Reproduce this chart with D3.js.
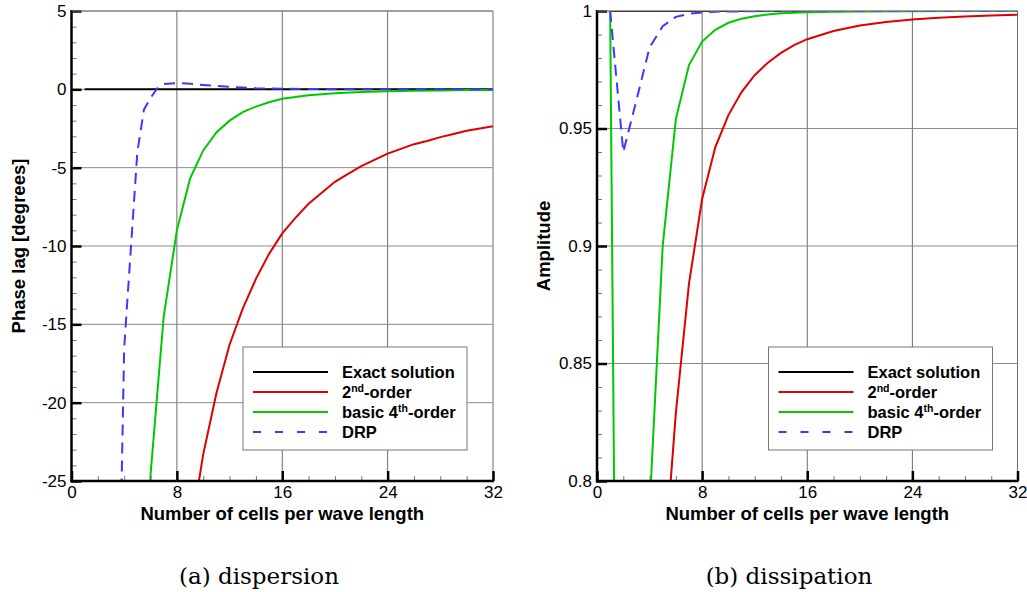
<!DOCTYPE html>
<html>
<head>
<meta charset="utf-8">
<script src="https://cdn.jsdelivr.net/npm/d3@7"></script>
<style>
  body { margin: 0; background: #fff; }
  svg { display: block; }
</style>
</head>
<body>
<div id="chart"></div>
<script>
// series: x = number of cells per wave length

// exact solution
var exactN = [1, 32];
var exactPhase = [0, 0];
var exactAmp = [1, 1];

// (a) dispersion, phase lag in degrees
var disp2ndN = [9, 10, 11, 12, 13, 14, 15, 16, 17, 18, 19, 20, 21, 22, 23, 24, 25, 26, 27, 28, 29, 30, 31, 32];
var disp2nd = [-28.5, -23.3, -19.4, -16.3, -14.0, -12.1, -10.5, -9.2, -8.2, -7.3, -6.6, -5.9, -5.4, -4.9, -4.5, -4.1, -3.8, -3.5, -3.3, -3.05, -2.85, -2.65, -2.5, -2.35];
var disp4thN = [5, 6, 7, 8, 9, 10, 11, 12, 13, 14, 15, 16, 18, 20, 22, 24, 26, 28, 30, 32];
var disp4th = [-49.6, -24.6, -14.5, -9.0, -5.7, -3.9, -2.75, -2.0, -1.45, -1.1, -0.82, -0.6, -0.38, -0.25, -0.17, -0.12, -0.09, -0.07, -0.05, -0.04];
var dispDrpN = [3, 4, 5, 5.5, 6, 6.5, 7, 8, 9, 10, 11, 12, 13, 14, 16, 18, 20, 24, 28, 32];
var dispDrp = [-60, -16.5, -4.0, -1.3, -0.55, 0.05, 0.34, 0.40, 0.35, 0.28, 0.22, 0.16, 0.11, 0.07, 0.04, 0.02, 0.01, 0, 0, 0];

// (b) dissipation, amplitude
var diss2ndN = [4, 5, 6, 7, 8, 9, 10, 11, 12, 13, 14, 15, 16, 18, 20, 22, 24, 26, 28, 30, 32];
var diss2nd = [0.66, 0.755, 0.829, 0.884, 0.92, 0.942, 0.9557, 0.9655, 0.9727, 0.978, 0.9822, 0.9855, 0.988, 0.9915, 0.9938, 0.9953, 0.9964, 0.9971, 0.9977, 0.9981, 0.9984];
var diss4thN = [1, 2, 3, 4, 5, 6, 7, 8, 9, 10, 11, 12, 13, 14, 16, 18, 20, 24, 28, 32];
var diss4th = [1.0, 0.333, 0.56, 0.788, 0.90, 0.954, 0.977, 0.987, 0.992, 0.995, 0.9967, 0.9978, 0.9985, 0.999, 0.9995, 0.9997, 0.9998, 0.9999, 1.0, 1.0];
var dissDrpN = [1, 2, 3, 4, 5, 6, 7, 8, 9, 10, 12, 14, 16, 20, 24, 28, 32];
var dissDrp = [1.0, 0.940, 0.962, 0.9845, 0.9935, 0.9975, 0.9988, 0.9994, 0.9997, 0.9998, 0.9999, 1, 1, 1, 1, 1, 1];

// ticks
var xMajor = [0, 8, 16, 24, 32];
var phaseMajor = [-25, -20, -15, -10, -5, 0, 5];
var ampMajor = [0.8, 0.85, 0.9, 0.95, 1];

var legendLabels = [["Exact solution"], ["2", "^nd", "-order"], ["basic 4", "^th", "-order"], ["DRP"]];
var seriesColors = ["#000000", "#dd0000", "#00c800", "#3a3aff"];

var svg = d3.select("#chart").append("svg")
    .attr("width", 1027)
    .attr("height", 592);

function drawPanel(p)
{
    var x = d3.scaleLinear().domain([0, 32]).range([p.left, p.right]);
    var y = d3.scaleLinear().domain(p.yDomain).range([481, 11]);

    var g = svg.append("g");

    //clip for the curves
    var clipId = "clip_" + p.name;
    svg.append("clipPath").attr("id", clipId)
        .append("rect")
        .attr("x", p.left).attr("y", 11)
        .attr("width", p.right - p.left).attr("height", 470);

    //grid lines, also the right border
    g.selectAll(".vgrid").data(xMajor.slice(1))
        .enter().append("line")
        .attr("x1", function(d) { return x(d); })
        .attr("x2", function(d) { return x(d); })
        .attr("y1", 11).attr("y2", 481)
        .style("stroke", "#6e6e6e").style("stroke-width", 1);
    g.selectAll(".hgrid").data(p.yMajor.slice(1))
        .enter().append("line")
        .attr("x1", p.left).attr("x2", p.right)
        .attr("y1", function(d) { return y(d); })
        .attr("y2", function(d) { return y(d); })
        .style("stroke", "#8a8a8a").style("stroke-width", 1);

    //curves
    var line = d3.line()
        .x(function(d) { return x(d[0]); })
        .y(function(d) { return y(d[1]); });
    var curves = g.append("g").attr("clip-path", "url(#" + clipId + ")");
    p.series.forEach(function(s, i) {
        curves.append("path")
            .datum(d3.zip(s[0], s[1]))
            .attr("d", line)
            .style("fill", "none")
            .style("stroke", seriesColors[i])
            .style("stroke-width", 2)
            .style("stroke-dasharray", i == 3 ? "11,7" : null);
    });

    //minor ticks
    var xMinor = d3.range(2, 32, 2).filter(function(d) { return d % 8 != 0; });
    g.append("g")
        .attr("transform", "translate(0,481)")
        .call(d3.axisBottom(x).tickValues(xMinor).tickSize(-5).tickFormat(""))
        .call(function(a) { a.select(".domain").remove(); })
        .selectAll("line").style("stroke", "#777").style("stroke-width", 1);
    g.append("g")
        .attr("transform", "translate(" + p.left + ",0)")
        .call(d3.axisLeft(y).tickValues(p.yMinor).tickSize(-5).tickFormat(""))
        .call(function(a) { a.select(".domain").remove(); })
        .selectAll("line").style("stroke", "#777").style("stroke-width", 1);

    //major ticks and labels
    var xAxis = g.append("g")
        .attr("transform", "translate(0,481)")
        .call(d3.axisBottom(x).tickValues(xMajor).tickSize(-10).tickPadding(3).tickFormat(function(d) { return String(d); }));
    var yAxis = g.append("g")
        .attr("transform", "translate(" + p.left + ",0)")
        .call(d3.axisLeft(y).tickValues(p.yMajor).tickSize(-10).tickPadding(5).tickFormat(p.yFormat));
    [xAxis, yAxis].forEach(function(a) {
        a.select(".domain").remove();
        a.selectAll("line").style("stroke", "#000").style("stroke-width", 2.5);
        a.selectAll("text")
            .style("font-family", "Liberation Sans, Arial, sans-serif")
            .style("font-size", "17px")
            .style("fill", "#000");
    });
    xAxis.selectAll("text").attr("dy", "0.8em");

    //thick axis lines
    g.append("line").attr("x1", p.left).attr("x2", p.left).attr("y1", 10).attr("y2", 482.5)
        .style("stroke", "#000").style("stroke-width", 2.5);
    g.append("line").attr("x1", p.left - 1).attr("x2", p.right + 1).attr("y1", 481).attr("y2", 481)
        .style("stroke", "#000").style("stroke-width", 2.5);
    //top border
    g.append("line").attr("x1", p.left).attr("x2", p.right).attr("y1", 11).attr("y2", 11)
        .style("stroke", "#7a7a7a").style("stroke-width", 1);

    //axis titles
    g.append("text")
        .attr("x", (p.left + p.right) / 2).attr("y", 520)
        .attr("text-anchor", "middle")
        .style("font-family", "Liberation Sans, Arial, sans-serif")
        .style("font-weight", "bold").style("font-size", "18.5px")
        .text("Number of cells per wave length");
    g.append("text")
        .attr("transform", "translate(" + p.titleX + ",246) rotate(-90)")
        .attr("text-anchor", "middle")
        .style("font-family", "Liberation Sans, Arial, sans-serif")
        .style("font-weight", "bold").style("font-size", "18.5px")
        .text(p.yTitle);

    //legend
    var lx = p.left + 171.5, ly = 347;
    var leg = g.append("g");
    leg.append("rect")
        .attr("x", lx).attr("y", ly).attr("width", 224).attr("height", 103)
        .style("fill", "#fff").style("stroke", "#777").style("stroke-width", 1);
    legendLabels.forEach(function(lab, i) {
        var yy = ly + 25 + i * 20;
        leg.append("line")
            .attr("x1", lx + 10).attr("x2", lx + 85)
            .attr("y1", yy).attr("y2", yy)
            .style("stroke", seriesColors[i]).style("stroke-width", 2)
            .style("stroke-dasharray", i == 3 ? "8,14" : null);
        var t = leg.append("text")
            .attr("x", lx + 99).attr("y", yy + 6)
            .style("font-family", "Liberation Sans, Arial, sans-serif")
            .style("font-weight", "bold").style("font-size", "16.5px");
        var raised = false;
        lab.forEach(function(part) {
            if (part[0] == "^") {
                t.append("tspan").attr("dy", -6).style("font-size", "10.5px").text(part.slice(1));
                raised = true;
            } else {
                t.append("tspan").attr("dy", raised ? 6 : 0).text(part);
                raised = false;
            }
        });
    });

    //caption
    svg.append("text")
        .attr("x", p.captionX).attr("y", 584)
        .attr("text-anchor", "middle")
        .style("font-family", "DejaVu Serif, serif")
        .style("font-size", "23px")
        .text(p.caption);
}

drawPanel({
    name: "dispersion",
    left: 71.5, right: 493,
    yDomain: [-25, 5],
    yMajor: phaseMajor,
    yMinor: d3.range(-24, 5, 1).filter(function(d) { return d % 5 != 0; }),
    yFormat: function(d) { return String(d); },
    yTitle: "Phase lag [degrees]",
    titleX: 25,
    caption: "(a) dispersion",
    captionX: 259,
    series: [[exactN, exactPhase], [disp2ndN, disp2nd], [disp4thN, disp4th], [dispDrpN, dispDrp]]
});

drawPanel({
    name: "dissipation",
    left: 597, right: 1017.5,
    yDomain: [0.8, 1],
    yMajor: ampMajor,
    yMinor: [0.81, 0.82, 0.83, 0.84, 0.86, 0.87, 0.88, 0.89, 0.91, 0.92, 0.93, 0.94, 0.96, 0.97, 0.98, 0.99],
    yFormat: function(d) { return String(+d.toFixed(2)); },
    yTitle: "Amplitude",
    titleX: 550,
    caption: "(b) dissipation",
    captionX: 789,
    series: [[exactN, exactAmp], [diss2ndN, diss2nd], [diss4thN, diss4th], [dissDrpN, dissDrp]]
});
</script>
</body>
</html>
